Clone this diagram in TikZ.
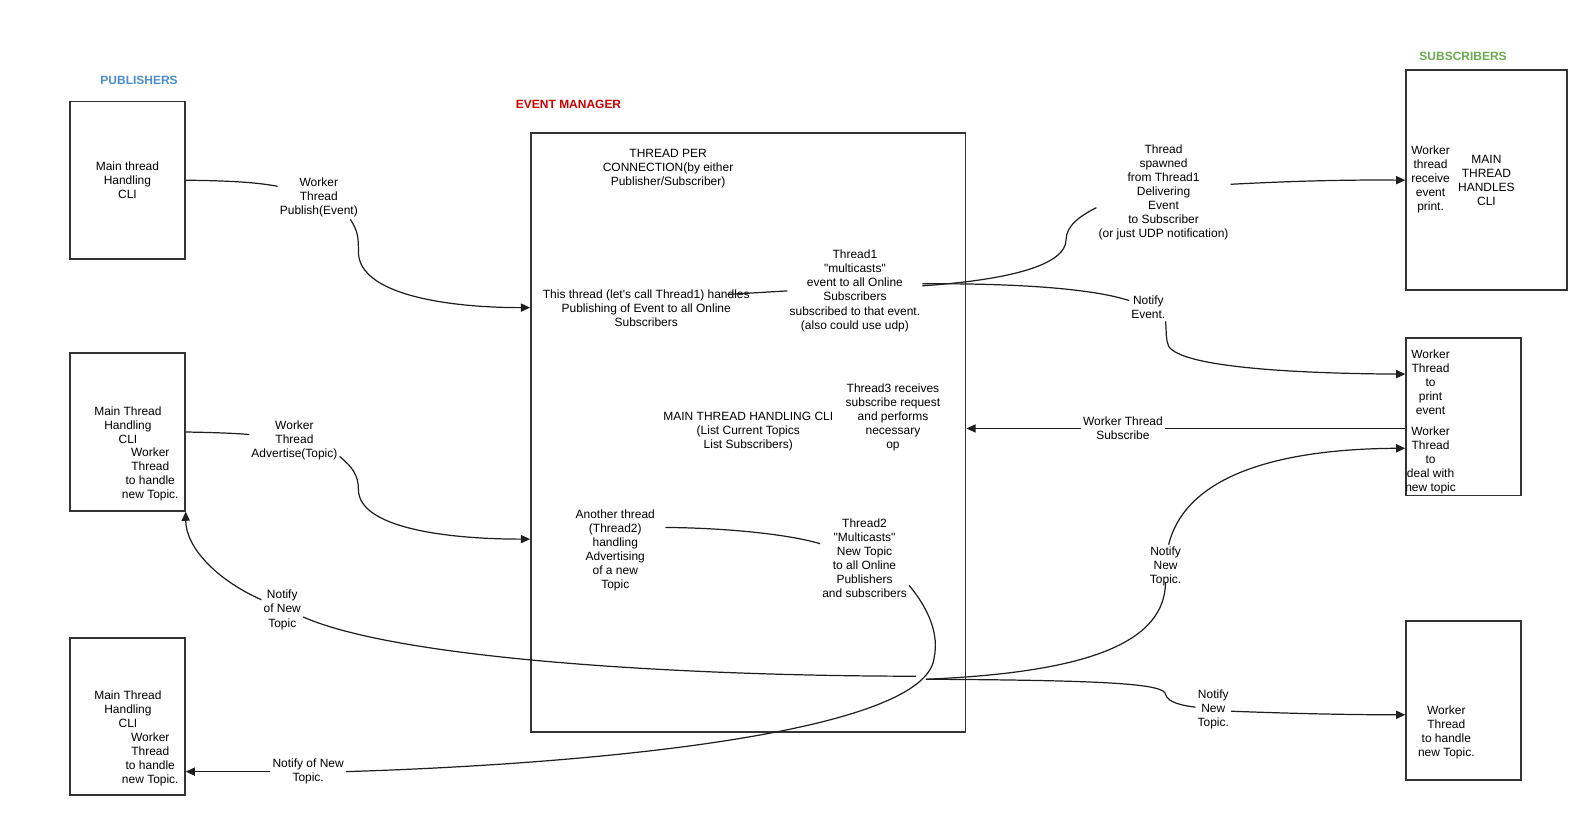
\documentclass[tikz,border=0pt]{standalone}
\usepackage{fontspec}
\setmainfont{Liberation Sans}
\usepackage{xcolor}
\usepackage{tikz}
\usetikzlibrary{arrows.meta}
\definecolor{pubblue}{HTML}{4A8DD0}
\definecolor{emred}{HTML}{CC0000}
\definecolor{subgreen}{HTML}{6AAB4F}
\tikzset{
>={Triangle[length=9pt,width=8pt]}, % filled block heads
x=1pt, y=-1pt, % coordinates are pixels, y going down
every node/.style={font=\fontsize{11.8}{13.8}\selectfont, align=center, inner sep=2pt},
box/.style={draw=black!80, line width=1.8pt, minimum width=113pt, minimum height=155pt}, % thread boxes
title/.style={font=\fontsize{11.8}{13.8}\selectfont\bfseries}, % group headings
link/.style={line width=1.2pt, draw=black!88}, % connectors
}
\begin{document}
\begin{tikzpicture}
        \useasboundingbox (0,0) rectangle (1568,802);

        % group headings
        \node[title, text=pubblue] (pubTitle) at (137,79) {PUBLISHERS};
        \node[title, text=emred] (emTitle) at (560,103) {EVENT MANAGER};
        \node[title, text=subgreen] (subTitle) at (1441,56) {SUBSCRIBERS};

        % boxes
        \node[box] (pubA) at (125.5,177.5) {Main thread\\Handling\\CLI};
        \node[box] (pubB) at (125.5,425.5) {};
        \node[box] (pubC) at (125.5,705.5) {};
        \node[box, minimum width=428pt, minimum height=590pt] (em) at (737,426) {};
        \node[box, minimum width=158pt, minimum height=217pt] (subA) at (1464,177.5) {MAIN\\THREAD\\HANDLES\\CLI};
        \node[box] (subB) at (1441.5,410.5) {};
        \node[box, minimum height=156pt] (subC) at (1441.5,690) {};

        % texts inside the boxes
        \node (pubBMain) at (126,418.5) {Main Thread\\Handling\\CLI};
        \node (pubBWork) at (148,467.5) {Worker\\Thread\\to handle\\new Topic.};
        \node (pubCMain) at (126,698.5) {Main Thread\\Handling\\CLI};
        \node (pubCWork) at (148,748) {Worker\\Thread\\to handle\\new Topic.};
        \node (subAWork) at (1409,177) {Worker\\thread\\receive\\event\\print.};
        \node (subBPrint) at (1409,376) {Worker\\Thread\\to\\print\\event};
        \node (subBTopic) at (1409,453) {Worker\\Thread\\to\\deal with\\new topic};
        \node (subCWork) at (1424.5,721) {Worker\\Thread\\to handle\\new Topic.};

        \node (conn) at (658,166) {THREAD PER\\CONNECTION(by either\\Publisher/Subscriber)};
        \node (thrPub) at (636.5,304) {This thread (let\textquotesingle s call Thread1) handles\\Publishing of Event to all Online\\Subscribers};
        \node (thrOne) at (842,286.5) {Thread1\\\textquotedbl multicasts\textquotedbl\\event to all Online\\Subscribers\\subscribed to that event.\\(also could use udp)};
        \node (emCli) at (737,425) {MAIN THREAD HANDLING CLI\\(List Current Topics\\List Subscribers)};
        \node (thrThree) at (879.5,411.5) {Thread3 receives\\subscribe request\\and performs\\necessary\\op};
        \node (thrAdv) at (606,542.5) {Another thread\\(Thread2)\\handling\\Advertising\\of a new\\Topic};
        \node (thrTwo) at (851.5,549.5) {Thread2\\\textquotedbl Multicasts\textquotedbl\\New Topic\\to all Online\\Publishers\\and subscribers};

        % connector labels
        \node (lblPub) at (314,194.5) {Worker\\Thread\\Publish(Event)};
        \node (lblAdv) at (290,434) {Worker\\Thread\\Advertise(Topic)};
        \node (lblNotA) at (278,600.7) {Notify\\of New\\Topic};
        \node (lblNotB) at (303.5,760) {Notify of New\\Topic.};
        \node (lblSpawn) at (1146,189.5) {Thread\\spawned\\from Thread1\\Delivering\\Event\\to Subscriber\\(or just UDP notification)};
        \node (lblEvt) at (1131,303) {Notify\\Event.};
        \node (lblSub) at (1106,422) {Worker Thread\\Subscribe};
        \node (lblNewA) at (1148,558) {Notify\\New\\Topic.};
        \node (lblNewB) at (1195,698.5) {Notify\\New\\Topic.};

        \coordinate (hubL) at (902,666);
        \coordinate (hubR) at (912,669);

        % publishers to event manager
        \draw[link] (pubA.east) .. controls (230,178) and (255,180) .. ([yshift=11pt]lblPub.west);
        \draw[link,->] ([xshift=31pt]lblPub.south) .. controls (353,228) and (353,235) .. (353,248)
              .. controls (353,290) and (440,303) .. ([yshift=123pt]em.west);
        \draw[link] (pubB.east) .. controls (215,426) and (235,427) .. ([yshift=6pt]lblAdv.west);
        \draw[link,->] ([yshift=6pt]lblAdv.south east) .. controls (347,460) and (353,468) .. (353,482)
              .. controls (353,520) and (440,531) .. ([yshift=-105pt]em.west);

        % inside the event manager
        \draw[link] (thrOne.west) -- ([xshift=-24pt,yshift=14pt]thrPub.east);
        \draw[link] ([xshift=8pt,yshift=23pt]thrAdv.east) .. controls (720,520) and (780,527) .. ([yshift=14pt]thrTwo.west);

        % event manager to subscribers
        \draw[link] ([yshift=5pt]thrOne.east) .. controls (990,276) and (1050,262) .. (1050,236)
              .. controls (1050,222) and (1065,212) .. ([yshift=-15pt]lblSpawn.west);
        \draw[link,->] ([yshift=8pt]lblSpawn.east) .. controls (1280,178) and (1330,177) .. (subA.west);
        \draw[link] ([yshift=7pt]thrOne.east) .. controls (1000,279) and (1075,284) .. ([yshift=7pt]lblEvt.west);
        \draw[link,->] ([xshift=17pt]lblEvt.south) .. controls (1149,328) and (1148,334) .. (1151,341)
              .. controls (1165,364) and (1300,368) .. ([yshift=42pt]subB.west);
        \draw[link] (lblSub -| subB.west) -- (lblSub.east);
        \draw[link,->] (lblSub.west) -- (lblSub -| em.east);
        \draw[link] (hubR) .. controls (1080,662) and (1147,630) .. ([yshift=6pt]lblNewA.south);
        \draw[link,->] ([xshift=3pt]lblNewA.north) .. controls (1170,460) and (1280,442) .. ([yshift=-31pt]subB.west);
        \draw[link] (hubR) .. controls (1100,670) and (1147,674) .. (1148,684)
              .. controls (1150,692) and (1165,695) .. ([yshift=2pt]lblNewB.west);
        \draw[link,->] ([yshift=-2pt]lblNewB.east) .. controls (1280,703) and (1330,704) .. ([yshift=-14pt]subC.west);

        % event manager back to publishers
        \draw[link] (hubL) .. controls (700,666) and (400,652) .. ([yshift=-7pt]lblNotA.east);
        \draw[link,->] ([yshift=10pt]lblNotA.west) .. controls (215,572) and (183,540) .. (pubB.south east);
        \draw[link] ([yshift=14pt]thrTwo.south east) .. controls (915,600) and (925,625) .. (920,648)
              .. controls (912,720) and (600,752) .. (lblNotB.east);
        \draw[link,->] (lblNotB.west) -- (lblNotB -| pubC.east);
\end{tikzpicture}
\end{document}
